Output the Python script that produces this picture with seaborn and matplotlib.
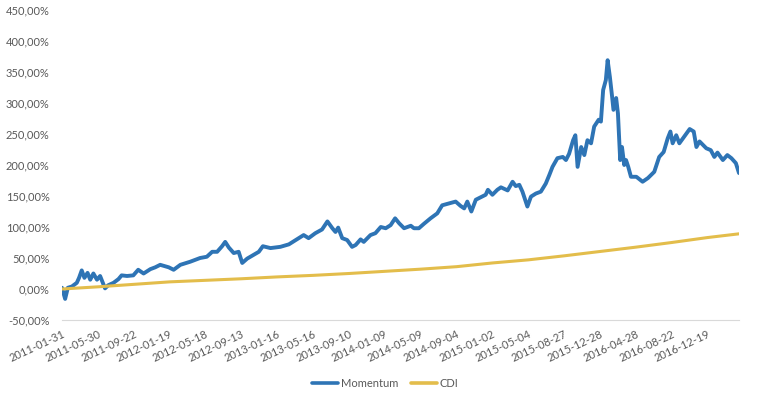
import numpy as np
import pandas as pd
import matplotlib
matplotlib.use('Agg')
import matplotlib.pyplot as plt
from matplotlib.ticker import FuncFormatter, FixedLocator
import seaborn as sns

mom_obs = [0, 7, 13, 22, 33, 38, 44, 50, 57, 63, 70, 78, 85, 96, 103, 115, 126, 133,
           145, 159, 170, 182, 197, 208, 219, 238, 249, 264, 286, 308, 323, 335, 346,
           357, 364, 372, 383, 394, 402, 413, 427, 439, 448, 465, 487, 506, 528, 539,
           550, 565, 580, 592, 603, 610, 616, 625, 636, 647, 655, 666, 673, 688, 699,
           711, 722, 733, 743, 752, 763, 778, 785, 796, 807, 822, 837, 848, 863, 878,
           889, 897, 904, 913, 923, 934, 945, 950, 960, 971, 979, 994, 1005, 1012,
           1020, 1027, 1038, 1046, 1057, 1068, 1079, 1087, 1094, 1105, 1117, 1124,
           1131, 1140, 1145, 1150, 1158, 1165, 1172, 1180, 1187, 1197, 1202, 1207,
           1213, 1217, 1222, 1227, 1230, 1236, 1240, 1245, 1249, 1254, 1258, 1263,
           1269, 1281, 1295, 1307, 1321, 1332, 1342, 1351, 1357, 1362, 1370, 1377,
           1388, 1400, 1409, 1415, 1422, 1437, 1447, 1455, 1462, 1474, 1484, 1493,
           1503, 1510]
mom_val = [2, -16, 2, 4, 10, 18, 30, 18, 26, 15, 25, 15, 21, 1, 6, 10, 16, 22,
           21, 22, 31, 25, 32, 35, 39, 35, 31, 39, 44, 50, 52, 60, 60,
           69, 76, 67, 58, 60, 42, 49, 55, 60, 69, 66, 68, 72, 82, 87,
           82, 90, 96, 109, 98, 92, 99, 82, 79, 68, 71, 80, 76, 87, 90,
           100, 98, 103, 114, 106, 98, 102, 98, 98, 105, 114, 122, 135, 138, 141,
           134, 130, 141, 125, 144, 148, 152, 160, 152, 160, 164, 159, 173, 166,
           168, 157, 133, 149, 154, 157, 170, 184, 197, 211, 213, 208,
           218, 240, 248, 197, 229, 216, 240, 235, 262, 273, 270, 321,
           337, 369, 342, 310, 289, 308, 283, 208, 229, 200, 208, 197,
           181, 181, 173, 179, 189, 213, 221, 243, 254, 235, 248, 235,
           246, 258, 254, 229, 238, 227, 224, 213, 220, 208, 216, 211,
           203, 187]

cdi_obs = [0, 80, 160, 240, 320, 400, 480, 560, 640, 720, 800, 880, 960, 1040,
           1120, 1200, 1280, 1360, 1440, 1510]
cdi_val = [0, 3.5, 7.5, 11.5, 14, 16.5, 19.5, 22, 25, 28.5, 32, 36, 42, 47,
           53.5, 60.5, 67.5, 75, 83, 89]

tick_labels = ['2011-01-31', '2011-05-30', '2011-09-22', '2012-01-19', '2012-05-18',
               '2012-09-13', '2013-01-16', '2013-05-16', '2013-09-10', '2014-01-09',
               '2014-05-09', '2014-09-04', '2015-01-02', '2015-05-04', '2015-08-27',
               '2015-12-28', '2016-04-28', '2016-08-22', '2016-12-19']
tick_step = 80

df = pd.concat([
    pd.DataFrame({'obs': mom_obs, 'ret': mom_val, 'serie': 'Momentum'}),
    pd.DataFrame({'obs': cdi_obs, 'ret': cdi_val, 'serie': 'CDI'}),
])

sns.set_style('white')
plt.rcParams['font.family'] = ['Lato', 'DejaVu Sans']
grey = '#595959'

fig = plt.figure(figsize=(7.66, 3.99), dpi=100)
ax = fig.add_axes([62 / 766, 1 - 320 / 399, 677 / 766, 310 / 399])

sns.lineplot(data=df, x='obs', y='ret', hue='serie', ax=ax,
             palette={'Momentum': '#2E74B5', 'CDI': '#E3BD4B'},
             size='serie', sizes={'Momentum': 2.8, 'CDI': 2.2},
             sort=False, estimator=None)

ax.set_xlim(0, mom_obs[-1])
ax.set_ylim(-50, 450)
ax.set_yticks(np.arange(-50, 451, 50))
ax.yaxis.set_major_formatter(FuncFormatter(lambda v, p: f'{v:.2f}'.replace('.', ',') + '%'))
ax.xaxis.set_major_locator(FixedLocator([i * tick_step for i in range(len(tick_labels))]))
ax.set_xticklabels(tick_labels, rotation=25, ha='right', va='top', rotation_mode='anchor')

ax.set_xlabel('')
ax.set_ylabel('')
for s in ['top', 'right', 'left']:
    ax.spines[s].set_visible(False)
ax.spines['bottom'].set_color('#D9D9D9')
ax.tick_params(axis='both', length=0, labelsize=8, labelcolor=grey)
ax.tick_params(axis='y', pad=9)
ax.tick_params(axis='x', pad=6)

leg = ax.legend(loc='center', bbox_to_anchor=(0.503, 0.038), bbox_transform=fig.transFigure,
                ncol=2, frameon=False, fontsize=8, handlelength=2.35,
                handletextpad=0.25, columnspacing=1.1)
for t in leg.get_texts():
    t.set_color(grey)
for l in leg.get_lines():
    l.set_linewidth(2.6)

fig.savefig('out.png', dpi=100)
